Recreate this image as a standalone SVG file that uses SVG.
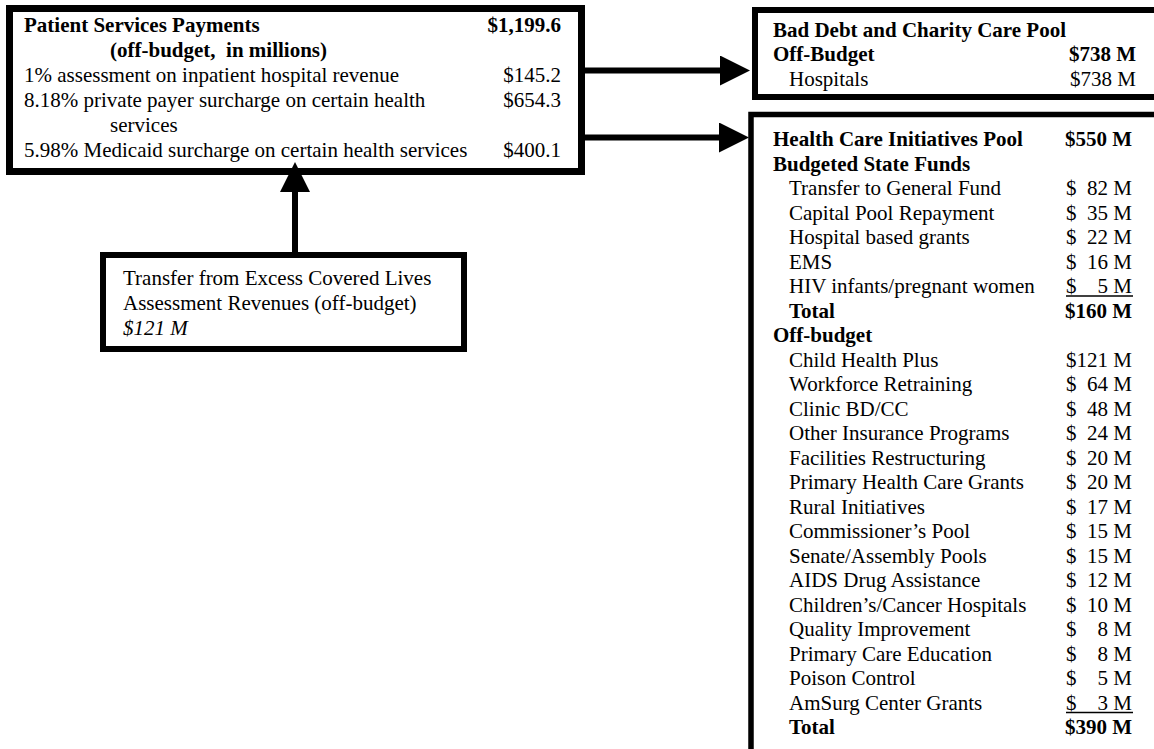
<svg xmlns="http://www.w3.org/2000/svg" width="1154" height="749" viewBox="0 0 1154 749">
<style>
text{font-family:"Liberation Serif","Times New Roman",serif;font-size:21px;fill:#000}
.b{font-weight:bold}
.i{font-style:italic}
.e{text-anchor:end}
.box{fill:#fff;stroke:#000}
.conn{stroke:#000;stroke-width:6;fill:none}
.ul{stroke:#000;stroke-width:1.5}
</style>
<defs>
<marker id="ah" markerUnits="userSpaceOnUse" markerWidth="30" markerHeight="30" viewBox="0 0 30 30" refX="0" refY="15" orient="auto">
<path d="M0,0 L30,15 L0,30 Z" fill="#000"/>
</marker>
</defs>
<rect width="1154" height="749" fill="#fff"/>

<g id="patient-services">
<rect class="box" x="9.5" y="8.5" width="572" height="163" stroke-width="7"/>
<text class="b" x="24" y="32">Patient Services Payments</text>
<text class="b e" x="561" y="32">$1,199.6</text>
<text class="b" x="110" y="57" xml:space="preserve">(off-budget,  in millions)</text>
<text x="24" y="82">1% assessment on inpatient hospital revenue</text>
<text class="e" x="561" y="82">$145.2</text>
<text x="24" y="107">8.18% private payer surcharge on certain health</text>
<text class="e" x="561" y="107">$654.3</text>
<text x="110" y="132">services</text>
<text x="24" y="157">5.98% Medicaid surcharge on certain health services</text>
<text class="e" x="561" y="157">$400.1</text>
</g>

<g id="bad-debt">
<rect class="box" x="755" y="10" width="420" height="87" stroke-width="6"/>
<text class="b" x="773" y="36.5">Bad Debt and Charity Care Pool</text>
<text class="b" x="773" y="61">Off-Budget</text>
<text class="b e" x="1136" y="61">$738 M</text>
<text x="789" y="85.5">Hospitals</text>
<text class="e" x="1136" y="85.5">$738 M</text>
</g>

<g id="health-care">
<rect class="box" x="751" y="114.5" width="420" height="700" stroke-width="5.5"/>
<text class="b" x="773" y="146">Health Care Initiatives Pool</text>
<text class="b e" x="1132" y="146">$550 M</text>
<text class="b" x="773" y="170.5">Budgeted State Funds</text>
<text x="789" y="195">Transfer to General Fund</text>
<text x="1066" y="195">$</text><text class="e" x="1132" y="195">82 M</text>
<text x="789" y="219.5">Capital Pool Repayment</text>
<text x="1066" y="219.5">$</text><text class="e" x="1132" y="219.5">35 M</text>
<text x="789" y="244">Hospital based grants</text>
<text x="1066" y="244">$</text><text class="e" x="1132" y="244">22 M</text>
<text x="789" y="268.5">EMS</text>
<text x="1066" y="268.5">$</text><text class="e" x="1132" y="268.5">16 M</text>
<text x="789" y="293">HIV infants/pregnant women</text>
<text x="1066" y="293">$</text><text class="e" x="1132" y="293">5 M</text>
<line class="ul" x1="1066" y1="296" x2="1133" y2="296"/>
<text class="b" x="789" y="317.5">Total</text>
<text class="b e" x="1132" y="317.5">$160 M</text>
<text class="b" x="773" y="342">Off-budget</text>
<text x="789" y="366.5">Child Health Plus</text>
<text class="e" x="1132" y="366.5">$121 M</text>
<text x="789" y="391">Workforce Retraining</text>
<text x="1066" y="391">$</text><text class="e" x="1132" y="391">64 M</text>
<text x="789" y="415.5">Clinic BD/CC</text>
<text x="1066" y="415.5">$</text><text class="e" x="1132" y="415.5">48 M</text>
<text x="789" y="440">Other Insurance Programs</text>
<text x="1066" y="440">$</text><text class="e" x="1132" y="440">24 M</text>
<text x="789" y="464.5">Facilities Restructuring</text>
<text x="1066" y="464.5">$</text><text class="e" x="1132" y="464.5">20 M</text>
<text x="789" y="489">Primary Health Care Grants</text>
<text x="1066" y="489">$</text><text class="e" x="1132" y="489">20 M</text>
<text x="789" y="513.5">Rural Initiatives</text>
<text x="1066" y="513.5">$</text><text class="e" x="1132" y="513.5">17 M</text>
<text x="789" y="538">Commissioner’s Pool</text>
<text x="1066" y="538">$</text><text class="e" x="1132" y="538">15 M</text>
<text x="789" y="562.5">Senate/Assembly Pools</text>
<text x="1066" y="562.5">$</text><text class="e" x="1132" y="562.5">15 M</text>
<text x="789" y="587">AIDS Drug Assistance</text>
<text x="1066" y="587">$</text><text class="e" x="1132" y="587">12 M</text>
<text x="789" y="611.5">Children’s/Cancer Hospitals</text>
<text x="1066" y="611.5">$</text><text class="e" x="1132" y="611.5">10 M</text>
<text x="789" y="636">Quality Improvement</text>
<text x="1066" y="636">$</text><text class="e" x="1132" y="636">8 M</text>
<text x="789" y="660.5">Primary Care Education</text>
<text x="1066" y="660.5">$</text><text class="e" x="1132" y="660.5">8 M</text>
<text x="789" y="685">Poison Control</text>
<text x="1066" y="685">$</text><text class="e" x="1132" y="685">5 M</text>
<text x="789" y="709.5">AmSurg Center Grants</text>
<text x="1066" y="709.5">$</text><text class="e" x="1132" y="709.5">3 M</text>
<line class="ul" x1="1066" y1="712.5" x2="1133" y2="712.5"/>
<text class="b" x="789" y="734">Total</text>
<text class="b e" x="1132" y="734">$390 M</text>
</g>

<g id="transfer">
<rect class="box" x="103" y="255" width="361" height="94" stroke-width="6"/>
<text x="123" y="285">Transfer from Excess Covered Lives</text>
<text x="123" y="310">Assessment Revenues (off-budget)</text>
<text class="i" x="123" y="335">$121 M</text>
</g>

<g id="connectors">
<line class="conn" x1="585" y1="70.5" x2="720" y2="70.5" marker-end="url(#ah)"/>
<line class="conn" x1="585" y1="137.5" x2="719" y2="137.5" marker-end="url(#ah)"/>
<line class="conn" x1="295" y1="252" x2="295" y2="192" marker-end="url(#ah)"/>
</g>
</svg>
